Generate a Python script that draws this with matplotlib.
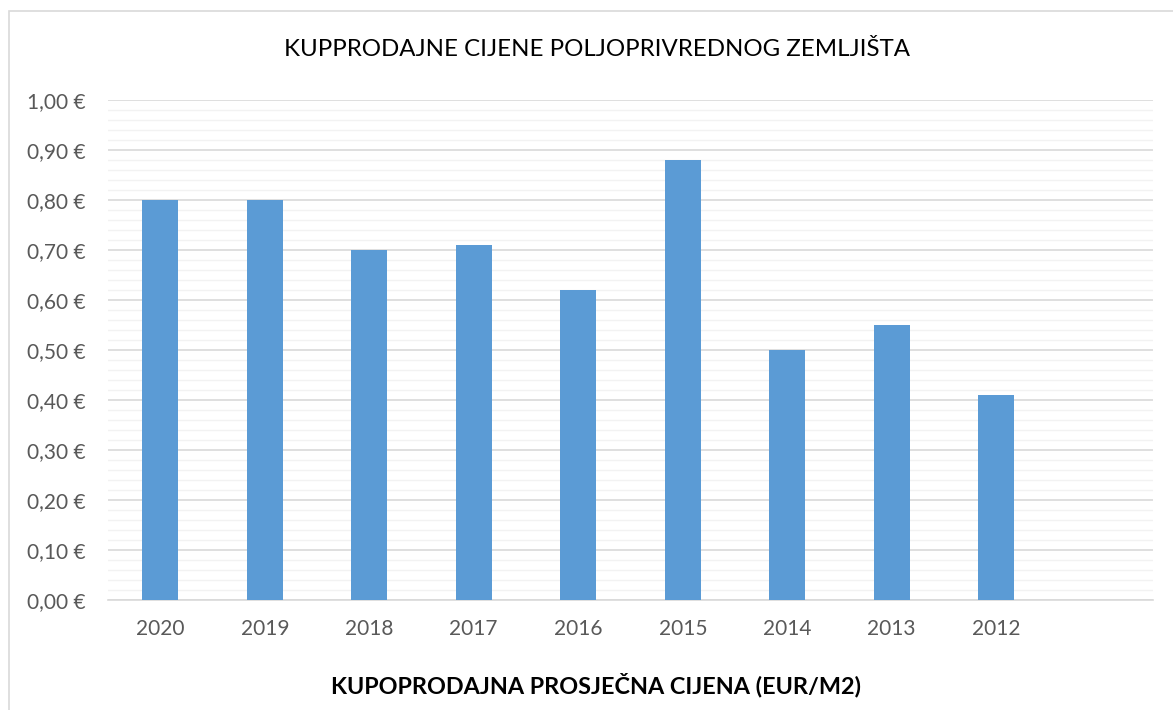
import matplotlib.pyplot as plt
from matplotlib.patches import Rectangle
from matplotlib.ticker import MultipleLocator, FuncFormatter
import numpy as np

# Data
years = ['2020', '2019', '2018', '2017', '2016', '2015', '2014', '2013', '2012', '']
prices = [0.80, 0.80, 0.70, 0.71, 0.62, 0.88, 0.50, 0.55, 0.41, 0.0]

title = 'KUPPRODAJNE CIJENE POLJOPRIVREDNOG ZEMLJIŠTA'
xlabel = 'KUPOPRODAJNA PROSJEČNA CIJENA (EUR/M2)'

plt.rcParams['font.family'] = ['Lato', 'DejaVu Sans']

fig = plt.figure(figsize=(11.73, 7.10), dpi=100)
ax = fig.add_axes([108 / 1173, 110 / 710, 1045 / 1173, 500 / 710])

# chart border (top and left visible)
fig.patches.append(Rectangle((9 / 1173, -0.1), 1.2, 1.1 - 11 / 710,
                             transform=fig.transFigure, fill=False,
                             edgecolor='#D9D9D9', linewidth=1.2))

x = np.arange(len(years))
ax.bar(x[:9], prices[:9], width=0.345, color='#5B9BD5', zorder=3)

ax.set_xlim(-0.5, len(years) - 0.5)
ax.set_ylim(0, 1.0)
ax.yaxis.set_major_locator(MultipleLocator(0.1))
ax.yaxis.set_minor_locator(MultipleLocator(0.02))
ax.yaxis.set_major_formatter(FuncFormatter(lambda v, p: f'{v:.2f} €'.replace('.', ',')))
ax.grid(which='minor', axis='y', color='#F2F2F2', linewidth=1.0, zorder=0)
ax.grid(which='major', axis='y', color='#D9D9D9', linewidth=1.2, zorder=1)

ax.set_xticks(x)
ax.set_xticklabels(years)
ax.tick_params(axis='both', which='both', length=0, labelsize=15, colors='#595959')
ax.tick_params(axis='y', pad=16)
ax.tick_params(axis='x', pad=14)

for s in ['top', 'right', 'left']:
    ax.spines[s].set_visible(False)
ax.spines['bottom'].set_color('#D9D9D9')
ax.spines['bottom'].set_linewidth(1.2)

fig.text(597 / 1173, 1 - 50 / 710, title, ha='center', va='center', fontsize=17.3, color='black')
fig.text(596 / 1173, 1 - 685 / 710, xlabel, ha='center', va='center', fontsize=16.8,
         fontweight='bold', color='black')

fig.savefig('out.png', dpi=100)
